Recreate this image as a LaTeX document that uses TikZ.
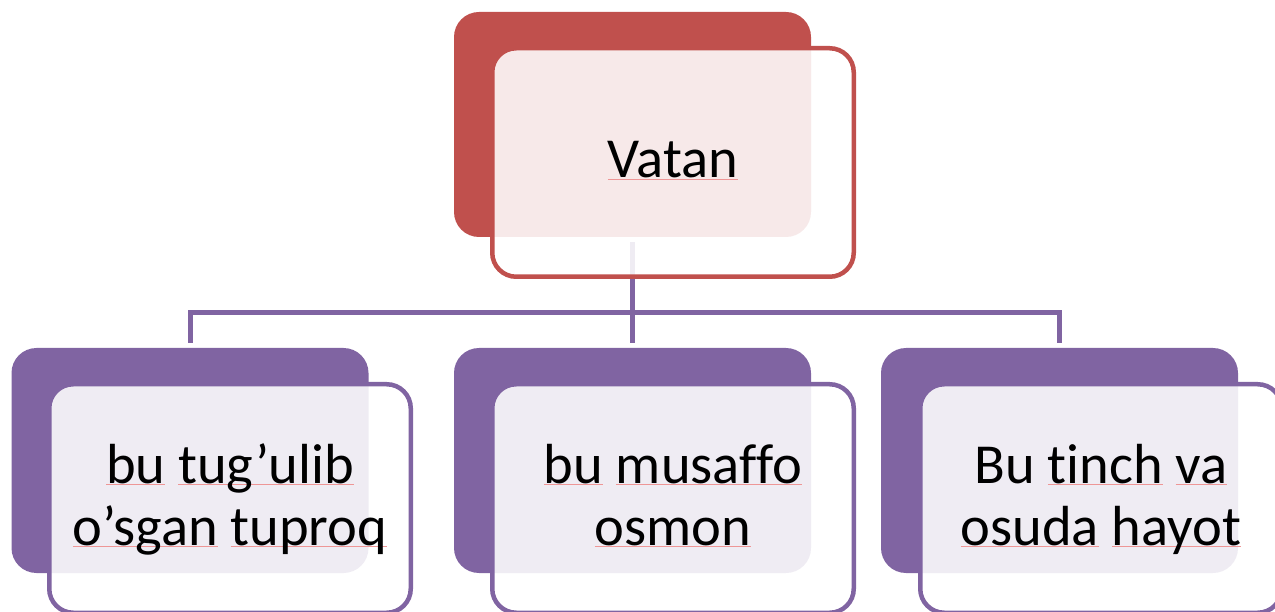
\documentclass[tikz,border=0pt]{standalone}
\usepackage{fontspec}
\setmainfont{Carlito}[Ligatures={NoCommon}]
\definecolor{redc}{HTML}{C0504D}
\definecolor{purc}{HTML}{8064A2}
\definecolor{sqc}{RGB}{238,150,150}
\newcommand\sqw[1]{\setbox0=\hbox{#1}\rlap{\textcolor{sqc}{\rule[-2pt]{\wd0}{1pt}}}\box0\relax}
\begin{document}
\begin{tikzpicture}[x=1pt,y=-1pt,
  backbox/.style={rectangle, fill=#1, draw=none, rounded corners=25pt,
    minimum width=357pt, minimum height=225pt, inner sep=0pt},
  frontbox/.style={rectangle, fill=white, fill opacity=0.88, draw=#1, draw opacity=1,
    line width=4.5pt, rounded corners=24pt, minimum width=361.5pt,
    minimum height=228.5pt, inner sep=0pt},
  wire/.style={draw=purc, line width=5pt},
  lbl/.style={font=\fontsize{56.5}{62}\selectfont, inner sep=0pt, anchor=base, text=black}]
\path[use as bounding box, clip] (0,0) rectangle (1275,612);
% back boxes
\node[backbox=redc] (tb) at (632.5,124.5) {};
\node[backbox=purc] (lb) at (190,460.5) {};
\node[backbox=purc] (mb) at (632.5,460.5) {};
\node[backbox=purc] (rb) at (1059.5,460.5) {};
% connectors
\draw[wire] ([yshift=-5pt]tb.south) -- ([yshift=5pt]mb.north);
\draw[wire] ([yshift=5pt]lb.north) -- ++(0,-30.5) -| ([yshift=5pt]rb.north);
% front boxes
\node[frontbox=redc] (tf) at (673,162.5) {};
\node[frontbox=purc] (lf) at (230,498.5) {};
\node[frontbox=purc] (mf) at (673,498.5) {};
\node[frontbox=purc] (rf) at (1101,498.5) {};
% labels
\node[lbl] (tt) at (673,178) {\sqw{Vatan}};
\node[lbl] (lt) at (230,483) {\begin{tabular}[t]{@{}c@{}}\sqw{bu} \sqw{tug’ulib}\\ \sqw{o’sgan} \sqw{tuproq}\end{tabular}};
\node[lbl] (mt) at (673,483) {\begin{tabular}[t]{@{}c@{}}\sqw{bu} \sqw{musaffo}\\ \sqw{osmon}\end{tabular}};
\node[lbl] (rt) at (1101,483) {\begin{tabular}[t]{@{}c@{}}Bu \sqw{tinch} \sqw{va}\\ \sqw{osuda} \sqw{hayot}\end{tabular}};
\end{tikzpicture}
\end{document}
